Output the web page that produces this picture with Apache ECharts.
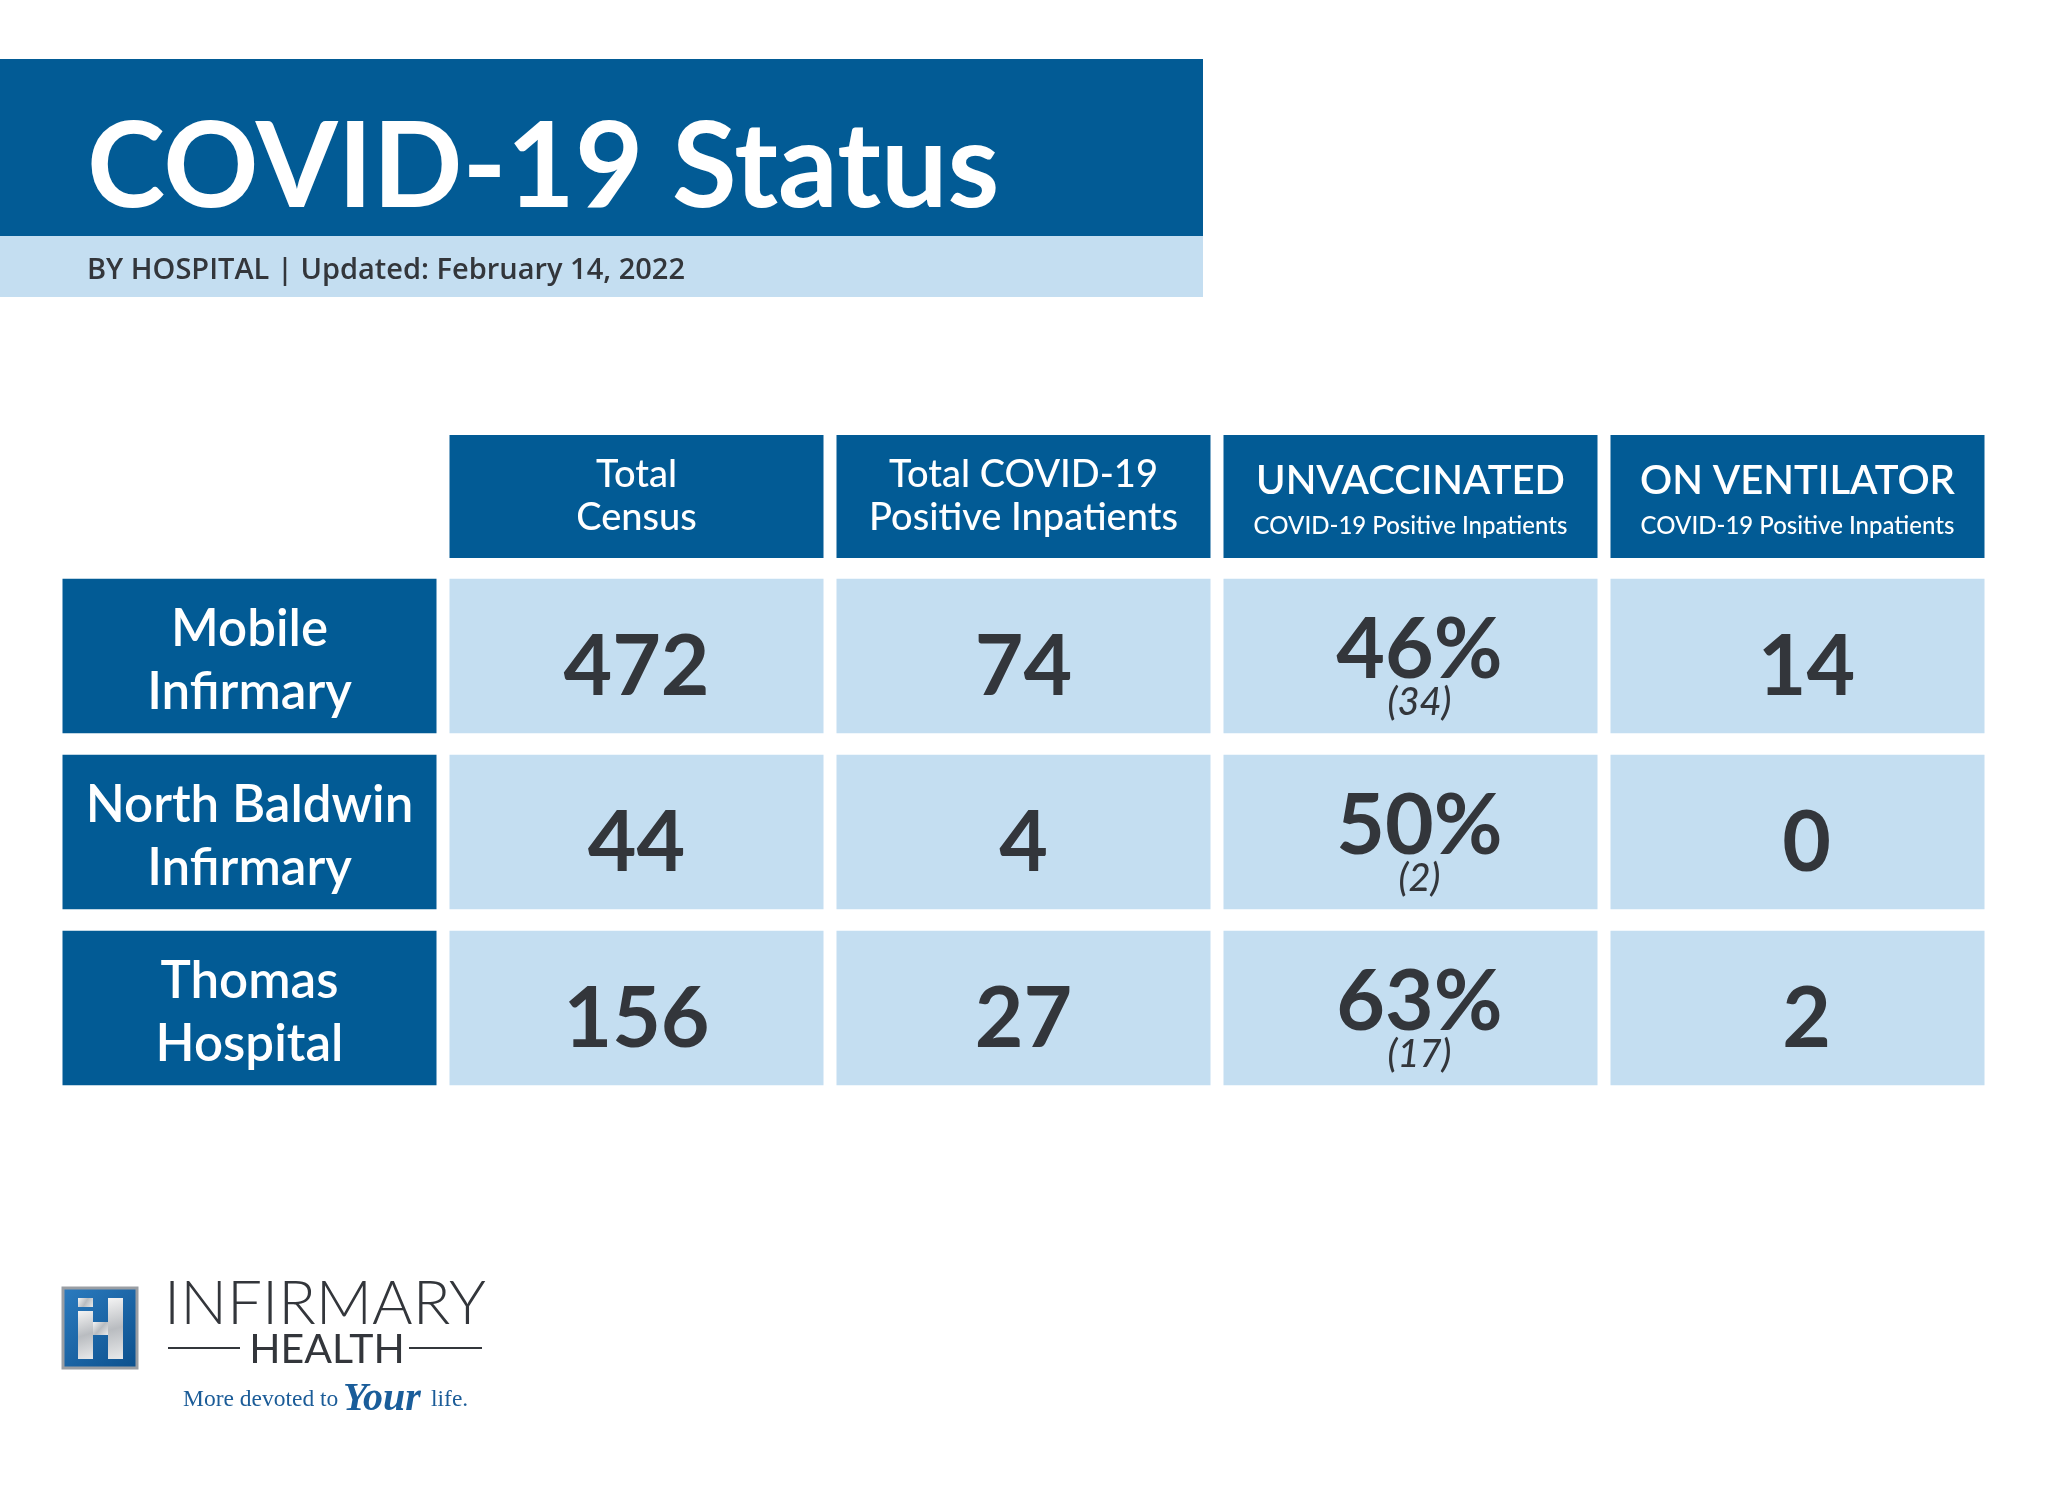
<!DOCTYPE html>
<html>
<head>
<meta charset="utf-8">
<title>COVID-19 Status</title>
<script src="https://cdn.jsdelivr.net/npm/echarts@6/dist/echarts.min.js"></script>
<style>
  html, body { margin: 0; padding: 0; background: #ffffff; }
  #main { width: 2048px; height: 1493px; }
</style>
</head>
<body>
<div id="main"></div>
<script>
// table content
const headerTitles = ['', 'Total\nCensus', 'Total COVID-19\nPositive Inpatients', 'UNVACCINATED', 'ON VENTILATOR'];
const headerSubtitles = ['', '', '', 'COVID-19 Positive Inpatients', 'COVID-19 Positive Inpatients'];
const hospitals = ['Mobile\nInfirmary', 'North Baldwin\nInfirmary', 'Thomas\nHospital'];
const totalCensus = [472, 44, 156];
const positiveInpatients = [74, 4, 27];
const unvaccinatedPct = [46, 50, 63];
const unvaccinatedCount = [34, 2, 17];
const onVentilator = [14, 0, 2];

const DARK = '#025b95';
const LIGHT = '#c4def1';
const INK = '#33363b';
const FONT = 'Lato';

const columnIndex = [0, 1, 2, 3, 4];
const bodyColumns = [hospitals, totalCensus, positiveInpatients, unvaccinatedPct, onVentilator];
// the last two columns sit a little right of centre in the original
const valueShift = [0, 0, 0, 9, 9];

// cell lists for the custom series
let headerData = [];
for (let j = 1; j < headerTitles.length; j++) headerData.push([j, 0]);
let bodyData = [];
hospitals.forEach((h, i) => {
    columnIndex.forEach(j => bodyData.push([j, i]));
});

function headerCell(params, api) {
    const col = api.value(0);
    const c = api.coord([col, 0]);
    const band = api.size([1, 1]);
    const w = band[0] - 13, h = band[1];
    const children = [{
        type: 'rect',
        shape: { x: c[0] - w / 2, y: c[1] - h / 2, width: w, height: h },
        style: { fill: DARK }
    }];
    if (headerSubtitles[col]) {
        children.push({
            type: 'text',
            style: { text: headerTitles[col], x: c[0], y: c[1] - 15, align: 'center', verticalAlign: 'middle',
                fill: '#fff', font: `600 40px ${FONT}` }
        });
        children.push({
            type: 'text',
            style: { text: headerSubtitles[col], x: c[0], y: c[1] + 30, align: 'center', verticalAlign: 'middle',
                fill: '#fff', font: `500 24px ${FONT}` }
        });
    } else {
        children.push({
            type: 'text',
            style: { text: headerTitles[col], x: c[0], y: c[1], align: 'center', verticalAlign: 'middle',
                fill: '#fff', font: `500 38px ${FONT}`, lineHeight: 43 }
        });
    }
    return { type: 'group', children: children };
}

function bodyCell(params, api) {
    const col = api.value(0), row = api.value(1);
    const c = api.coord([col, row]);
    const band = api.size([1, 1]);
    const w = band[0] - 13, h = band[1] - 21.5;
    const cx = c[0] + valueShift[col];
    const children = [{
        type: 'rect',
        shape: { x: c[0] - w / 2, y: c[1] - h / 2, width: w, height: h },
        style: { fill: col === 0 ? DARK : LIGHT }
    }];
    if (col === 0) {
        children.push({
            type: 'text',
            style: { text: hospitals[row], x: c[0], y: c[1] + 5, align: 'center', verticalAlign: 'middle',
                fill: '#fff', font: `600 51px ${FONT}`, lineHeight: 63 }
        });
    } else if (col === 3) {
        children.push({
            type: 'text',
            style: { text: unvaccinatedPct[row] + '%', x: cx, y: c[1] - 5, align: 'center', verticalAlign: 'middle',
                fill: INK, font: `bold 84px ${FONT}` }
        });
        children.push({
            type: 'text',
            style: { text: '(' + unvaccinatedCount[row] + ')', x: cx, y: c[1] + 47, align: 'center', verticalAlign: 'middle',
                fill: INK, font: `italic 500 38px ${FONT}` }
        });
    } else {
        children.push({
            type: 'text',
            style: { text: String(bodyColumns[col][row]), x: cx, y: c[1] + 12, align: 'center', verticalAlign: 'middle',
                fill: INK, font: `bold 84px ${FONT}` }
        });
    }
    return { type: 'group', children: children };
}

const chart = echarts.init(document.getElementById('main'));

const silver = new echarts.graphic.LinearGradient(0, 0, 1, 1, [
    { offset: 0, color: '#f4f4f4' }, { offset: 0.5, color: '#b9bcc0' }, { offset: 1, color: '#e8e9ea' }
]);

option = {
    backgroundColor: '#ffffff',
    animation: false,
    title: [
        {
            text: 'COVID-19 Status',
            left: 82, top: 105,
            textStyle: { color: '#fff', fontFamily: FONT, fontWeight: 'bold', fontSize: 118, lineHeight: 118 },
            z: 10
        },
        {
            text: 'BY HOSPITAL | Updated: February 14, 2022',
            left: 82, top: 251,
            textStyle: { color: INK, fontFamily: 'Open Sans', fontWeight: 600, fontSize: 29, lineHeight: 29 },
            z: 10
        }
    ],
    graphic: [
        { type: 'rect', z: 1, shape: { x: 0, y: 59, width: 1203, height: 177 }, style: { fill: DARK } },
        { type: 'rect', z: 1, shape: { x: 0, y: 236, width: 1203, height: 61 }, style: { fill: LIGHT } },
        // logo
        {
            type: 'group', z: 1, children: [
                { type: 'rect', shape: { x: 63, y: 1288, width: 74, height: 80 },
                  style: { fill: new echarts.graphic.LinearGradient(0, 0, 1, 1, [
                      { offset: 0, color: '#2c7cc0' }, { offset: 1, color: '#0b4f8c' }]),
                      stroke: '#9a9ea3', lineWidth: 3 } },
                { type: 'rect', shape: { x: 78, y: 1298, width: 15, height: 9 }, style: { fill: silver } },
                { type: 'rect', shape: { x: 78, y: 1311, width: 15, height: 48 }, style: { fill: silver } },
                { type: 'rect', shape: { x: 93, y: 1322, width: 15, height: 13 }, style: { fill: silver } },
                { type: 'rect', shape: { x: 108, y: 1298, width: 15, height: 61 }, style: { fill: silver } },
                { type: 'text', style: { text: 'INFIRMARY', x: 325, y: 1304, align: 'center', verticalAlign: 'middle',
                    fill: '#33363b', font: `300 62px ${FONT}` } },
                { type: 'text', style: { text: 'HEALTH', x: 327, y: 1350, align: 'center', verticalAlign: 'middle',
                    fill: '#33363b', font: `400 41px ${FONT}` } },
                { type: 'line', shape: { x1: 168, y1: 1348, x2: 240, y2: 1348 }, style: { stroke: '#33363b', lineWidth: 2 } },
                { type: 'line', shape: { x1: 409, y1: 1348, x2: 482, y2: 1348 }, style: { stroke: '#33363b', lineWidth: 2 } },
                { type: 'text', style: { text: 'More devoted to', x: 183, y: 1412, align: 'left', verticalAlign: 'bottom',
                    fill: '#1b5c98', font: '23.5px "Liberation Serif"' } },
                { type: 'text', style: { text: 'Your', x: 343, y: 1420, align: 'left', verticalAlign: 'bottom',
                    fill: '#1a5d9a', font: 'italic bold 40px "Liberation Serif"' } },
                { type: 'text', style: { text: 'life.', x: 431, y: 1412, align: 'left', verticalAlign: 'bottom',
                    fill: '#1b5c98', font: '23.5px "Liberation Serif"' } }
            ]
        }
    ],
    grid: [
        { left: 56, right: 57, top: 435, height: 123 },
        { left: 56, right: 57, top: 568, height: 528 }
    ],
    xAxis: [
        { type: 'category', gridIndex: 0, data: columnIndex, show: false },
        { type: 'category', gridIndex: 1, data: columnIndex, show: false }
    ],
    yAxis: [
        { type: 'category', gridIndex: 0, data: ['header'], show: false },
        { type: 'category', gridIndex: 1, data: hospitals, inverse: true, show: false }
    ],
    series: [
        { type: 'custom', xAxisIndex: 0, yAxisIndex: 0, renderItem: headerCell, data: headerData, silent: true },
        { type: 'custom', xAxisIndex: 1, yAxisIndex: 1, renderItem: bodyCell, data: bodyData, silent: true }
    ]
};
chart.setOption(option);
</script>
</body>
</html>
